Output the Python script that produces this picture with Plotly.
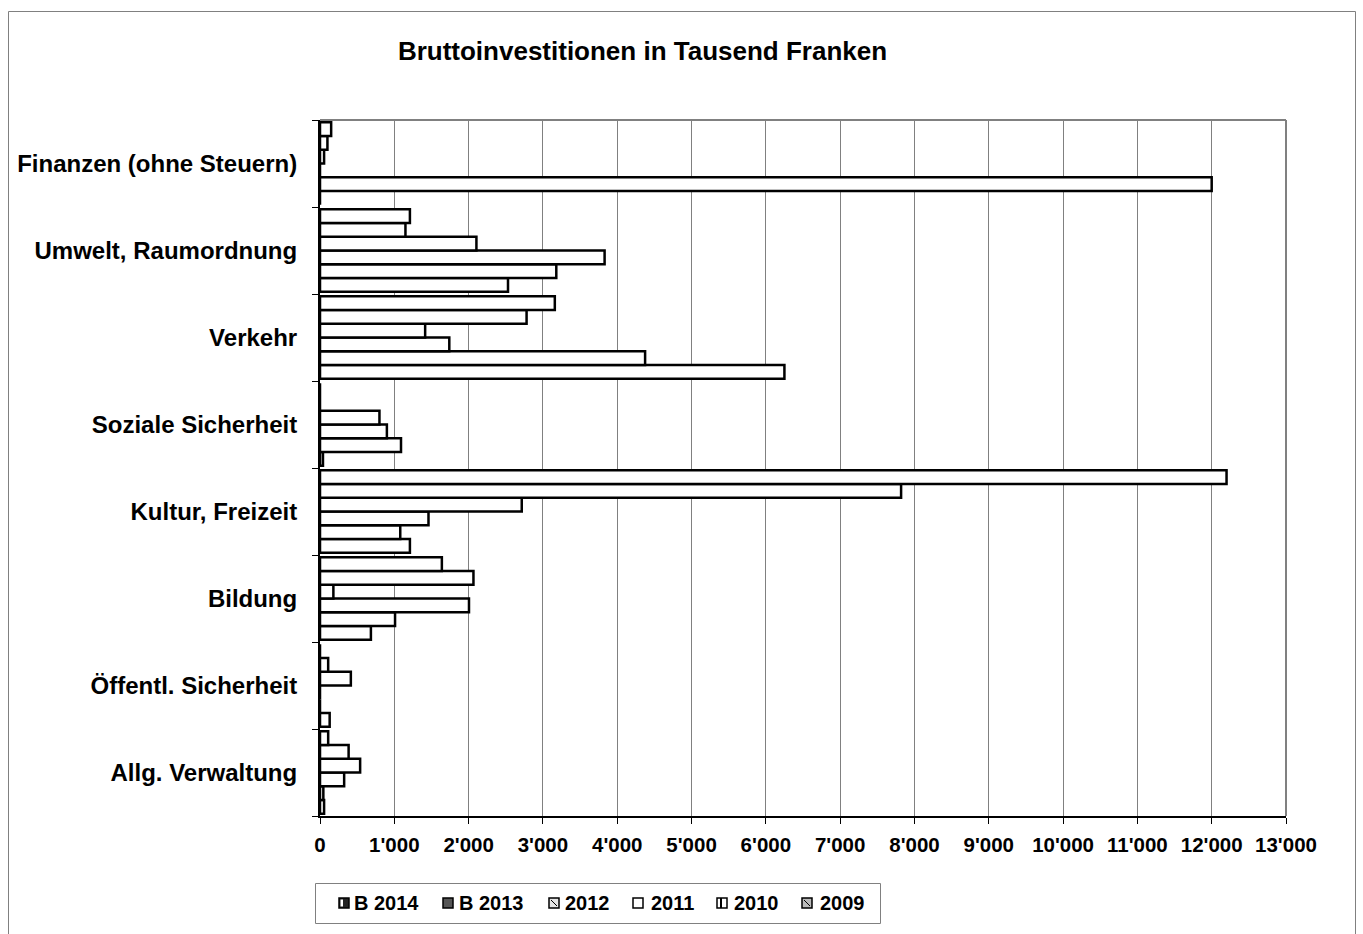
import plotly.graph_objects as go

# Categories listed bottom -> top (as they appear on the chart)
categories = [
    "Allg. Verwaltung",
    "Öffentl. Sicherheit",
    "Bildung",
    "Kultur, Freizeit",
    "Soziale Sicherheit",
    "Verkehr",
    "Umwelt, Raumordnung",
    "Finanzen (ohne Steuern)",
]

series_names = ["B 2014", "B 2013", "2012", "2011", "2010", "2009"]

b2014 = [55, 130, 685, 1210, 40, 6250, 2530, 0]
b2013 = [45, 0, 1010, 1080, 1090, 4375, 3180, 12000]
y2012 = [325, 0, 2005, 1460, 900, 1740, 3830, 0]
y2011 = [540, 415, 180, 2715, 800, 1415, 2105, 55]
y2010 = [385, 110, 2065, 7820, 0, 2780, 1150, 100]
y2009 = [110, 0, 1640, 12200, 0, 3160, 1210, 150]

x_tickvals = [0, 1000, 2000, 3000, 4000, 5000, 6000, 7000, 8000, 9000, 10000, 11000, 12000, 13000]
x_ticktext = ["0", "1'000", "2'000", "3'000", "4'000", "5'000", "6'000", "7'000",
              "8'000", "9'000", "10'000", "11'000", "12'000", "13'000"]

title_text = "Bruttoinvestitionen in Tausend Franken"

W, H = 1363, 934
ML, MR, MT, MB = 320, 77, 120, 118
PW = W - ML - MR
PH = H - MT - MB


def px_x(px):
    return (px - ML) / PW


def px_y(py):
    return (H - MB - py) / PH


FONT = "Liberation Sans, Arial, sans-serif"

fig = go.Figure()
all_series = [b2014, b2013, y2012, y2011, y2010, y2009]
for name, vals in zip(series_names, all_series):
    fig.add_trace(go.Bar(
        name=name,
        y=categories,
        x=vals,
        orientation="h",
        marker=dict(color="white", line=dict(color="black", width=2.5)),
        showlegend=False,
    ))

fig.update_layout(
    width=W, height=H,
    margin=dict(l=ML, r=MR, t=MT, b=MB),
    paper_bgcolor="white",
    plot_bgcolor="white",
    barmode="group",
    bargap=0.05,
    bargroupgap=0,
    font=dict(family=FONT, color="black"),
    title=dict(
        text=title_text,
        x=642.5 / W, xanchor="center", xref="container",
        y=1 - 51 / H, yanchor="middle", yref="container",
        font=dict(family=FONT, size=26, weight="bold", color="black"),
    ),
    xaxis=dict(
        range=[0, 13000],
        tickvals=x_tickvals,
        ticktext=x_ticktext,
        showgrid=True, gridcolor="#808080", gridwidth=1,
        zeroline=False,
        showline=True, linecolor="black", linewidth=2,
        ticks="outside", ticklen=6, tickcolor="black", tickwidth=1,
        tickfont=dict(family=FONT, size=20.5, weight="bold", color="black"),
        ticklabelstandoff=3,
    ),
    yaxis=dict(
        type="category",
        categoryorder="array", categoryarray=categories,
        range=[-0.5, len(categories) - 0.5],
        showgrid=False, zeroline=False,
        showline=True, linecolor="black", linewidth=2,
        ticks="outside", tickson="boundaries", ticklen=6, tickcolor="black", tickwidth=1,
        tickfont=dict(family=FONT, size=24, weight="bold", color="black"),
        ticklabelstandoff=16,
    ),
    showlegend=False,
)

# plot-area top / right border (gray) and outer chart border
fig.add_shape(type="line", xref="paper", yref="paper", x0=0, x1=1, y0=1, y1=1,
              line=dict(color="#808080", width=2), layer="above")
fig.add_shape(type="line", xref="paper", yref="paper", x0=1, x1=1, y0=0, y1=1,
              line=dict(color="#808080", width=2), layer="above")
fig.add_shape(type="rect", xref="paper", yref="paper",
              x0=px_x(8.5), x1=px_x(1355.5), y0=px_y(945), y1=px_y(11.5),
              line=dict(color="#808080", width=1), fillcolor="rgba(0,0,0,0)", layer="below")

# legend box (drawn by hand to match the compact Excel legend layout)
LEG_L, LEG_R, LEG_T, LEG_B = 315.5, 880.5, 883.5, 923.5
fig.add_shape(type="rect", xref="paper", yref="paper",
              x0=px_x(LEG_L), x1=px_x(LEG_R), y0=px_y(LEG_B), y1=px_y(LEG_T),
              line=dict(color="#808080", width=1), fillcolor="white", layer="above")

leg_symbol_left = [339, 443, 549, 633, 717, 802]
leg_text_left = [352, 457, 563, 649, 732, 818]
leg_fill = ["#222222", "#555555", "#e6e6e6", "white", "white", "#bbbbbb"]
LEG_CY = 903
SYM = 10
for i, name in enumerate(series_names):
    sx = leg_symbol_left[i]
    fig.add_shape(type="rect", xref="paper", yref="paper",
                  x0=px_x(sx), x1=px_x(sx + SYM),
                  y0=px_y(LEG_CY + SYM / 2), y1=px_y(LEG_CY - SYM / 2),
                  line=dict(color="black", width=1.5), fillcolor=leg_fill[i], layer="above")
    if name == "B 2014":
        fig.add_shape(type="rect", xref="paper", yref="paper",
                      x0=px_x(sx + 1.5), x1=px_x(sx + 4),
                      y0=px_y(LEG_CY + SYM / 2 - 1.5), y1=px_y(LEG_CY - SYM / 2 + 1.5),
                      line=dict(width=0), fillcolor="white", layer="above")
    if name == "2010":
        fig.add_shape(type="line", xref="paper", yref="paper",
                      x0=px_x(sx + 4), x1=px_x(sx + 4),
                      y0=px_y(LEG_CY + SYM / 2), y1=px_y(LEG_CY - SYM / 2),
                      line=dict(color="black", width=2), layer="above")
    if name in ("2012", "2009"):
        fig.add_shape(type="line", xref="paper", yref="paper",
                      x0=px_x(sx + 2), x1=px_x(sx + SYM - 2),
                      y0=px_y(LEG_CY - SYM / 2 + 2), y1=px_y(LEG_CY + SYM / 2 - 2),
                      line=dict(color="black", width=1), layer="above")
    fig.add_annotation(
        text=name, xref="paper", yref="paper",
        x=px_x(leg_text_left[i]), xanchor="left",
        y=px_y(LEG_CY), yanchor="middle",
        showarrow=False,
        font=dict(family=FONT, size=20, weight="bold", color="black"),
    )

fig.write_html(
    "out.html",
    config={"displayModeBar": False},
    post_script="document.body.style.margin='0';document.body.style.padding='0';"
                "document.body.style.overflow='hidden';",
)
